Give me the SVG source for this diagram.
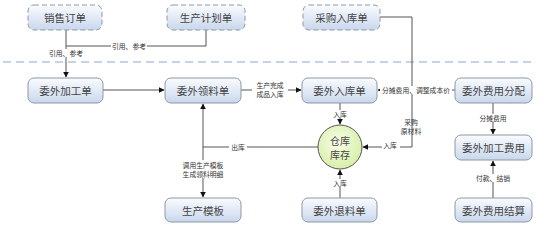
<svg xmlns="http://www.w3.org/2000/svg" width="553" height="229" viewBox="0 0 553 229">
<defs>
<linearGradient id="gb" x1="0" y1="0" x2="0" y2="1">
<stop offset="0" stop-color="#fafcff"/>
<stop offset="1" stop-color="#c9d7ec"/>
</linearGradient>
<radialGradient id="gg" cx="0.45" cy="0.4" r="0.6">
<stop offset="0" stop-color="#f8fde8"/>
<stop offset="1" stop-color="#d7efa8"/>
</radialGradient>
<marker id="ar" viewBox="0 0 10 10" refX="9" refY="5" markerWidth="6" markerHeight="6" orient="auto" markerUnits="userSpaceOnUse">
<path d="M0,0 L10,5 L0,10 z" fill="#111"/>
</marker>
<style>
.box{fill:url(#gb);stroke:#8f98a4;stroke-width:1}
.dash{stroke-dasharray:5,3}
.t{font-family:"Noto Sans CJK SC","Liberation Sans",sans-serif;font-size:10.5px;fill:#444;text-anchor:middle;dominant-baseline:central}
.ct{font-family:"Noto Sans CJK SC","Liberation Sans",sans-serif;font-size:10px;fill:#444;text-anchor:middle;dominant-baseline:central}
.e{font-family:"Noto Sans CJK SC","Liberation Sans",sans-serif;font-size:6.8px;fill:#333;text-anchor:middle;dominant-baseline:central}
.c{fill:none;stroke:#555;stroke-width:1}
.bg{fill:#fff}
</style>
</defs>
<rect width="553" height="229" fill="#fff"/>
<line x1="3" y1="62" x2="536" y2="62" stroke="#8fa6cc" stroke-width="1" stroke-dasharray="8,5"/>
<g id="connectors">
<path class="c" d="M66,30 V77" marker-end="url(#ar)"/>
<path class="c" d="M206,30 V46 H66"/>
<path class="c" d="M380,17 H412 V147 H363" marker-end="url(#ar)"/>
<path class="c" d="M103,90 H164" marker-end="url(#ar)"/>
<path class="c" d="M241,90 H301" marker-end="url(#ar)"/>
<path class="c" d="M455,90 H378" marker-end="url(#ar)"/>
<path class="c" d="M340,103 V124" marker-end="url(#ar)"/>
<path class="c" d="M340,198 V170" marker-end="url(#ar)"/>
<path class="c" d="M493,103 V134" marker-end="url(#ar)"/>
<path class="c" d="M493,198 V161" marker-end="url(#ar)"/>
<path class="c" d="M203,147 V104" marker-end="url(#ar)"/>
<path class="c" d="M203,147 V197" marker-end="url(#ar)"/>
<path class="c" d="M318,147 H203"/>
<rect class="bg" x="49" y="49" width="34" height="8"/>
<text class="e" x="66" y="53">引用、参考</text>
<rect class="bg" x="111" y="42" width="36" height="8"/>
<text class="e" x="129" y="46">引用、参考</text>
<rect class="bg" x="252" y="80" width="36" height="18"/>
<text class="e" x="270" y="85">生产完成</text>
<text class="e" x="270" y="94">成品入库</text>
<rect class="bg" x="380" y="86" width="72" height="8"/>
<text class="e" x="416" y="90">分摊费用、调整成本价</text>
<rect class="bg" x="332" y="110" width="16" height="8"/>
<text class="e" x="340" y="114">入库</text>
<rect class="bg" x="332" y="179" width="16" height="8"/>
<text class="e" x="340" y="183">入库</text>
<rect class="bg" x="382" y="141" width="18" height="8"/>
<text class="e" x="390" y="145">入库</text>
<text class="e" x="411" y="122">采购</text>
<text class="e" x="411" y="131">原材料</text>
<rect class="bg" x="229" y="143" width="18" height="8"/>
<text class="e" x="238" y="147">出库</text>
<rect class="bg" x="475" y="114" width="36" height="8"/>
<text class="e" x="493" y="118">分摊费用</text>
<rect class="bg" x="475" y="174" width="36" height="8"/>
<text class="e" x="493" y="178">付款、结销</text>
<rect class="bg" x="179" y="160" width="48" height="18"/>
<text class="e" x="203" y="165">调用生产模板</text>
<text class="e" x="203" y="174">生成领料明细</text>
</g>
<g id="n-xsdd"><rect class="box dash" x="28" y="5" width="74" height="25" rx="6"/><text class="t" x="65" y="17.5">销售订单</text></g>
<g id="n-scjhd"><rect class="box dash" x="167" y="5" width="78" height="25" rx="6"/><text class="t" x="206" y="17.5">生产计划单</text></g>
<g id="n-cgrkd"><rect class="box dash" x="303" y="5" width="77" height="25" rx="6"/><text class="t" x="341.5" y="17.5">采购入库单</text></g>
<g id="n-wwjgd"><rect class="box" x="28" y="78" width="75" height="25" rx="6"/><text class="t" x="65.5" y="90.5">委外加工单</text></g>
<g id="n-wwlld"><rect class="box" x="165" y="78" width="76" height="25" rx="6"/><text class="t" x="203" y="90.5">委外领料单</text></g>
<g id="n-wwrkd"><rect class="box" x="302" y="78" width="75" height="25" rx="6"/><text class="t" x="339.5" y="90.5">委外入库单</text></g>
<g id="n-wwfyfp"><rect class="box" x="455" y="78" width="77" height="25" rx="6"/><text class="t" x="493.5" y="90.5">委外费用分配</text></g>
<g id="n-wwjgfy"><rect class="box" x="455" y="135" width="77" height="25" rx="6"/><text class="t" x="493.5" y="147.5">委外加工费用</text></g>
<g id="n-ckkc"><circle cx="340" cy="147" r="22" fill="url(#gg)" stroke="#555" stroke-width="1"/><text class="ct" x="340" y="140">仓库</text><text class="ct" x="340" y="154.5">库存</text></g>
<g id="n-scmb"><rect class="box" x="165" y="198" width="76" height="24" rx="6"/><text class="t" x="203" y="210">生产模板</text></g>
<g id="n-wwtld"><rect class="box" x="302" y="198" width="75" height="24" rx="6"/><text class="t" x="339.5" y="210">委外退料单</text></g>
<g id="n-wwfyjs"><rect class="box" x="455" y="198" width="77" height="24" rx="6"/><text class="t" x="493.5" y="210">委外费用结算</text></g>
</svg>
